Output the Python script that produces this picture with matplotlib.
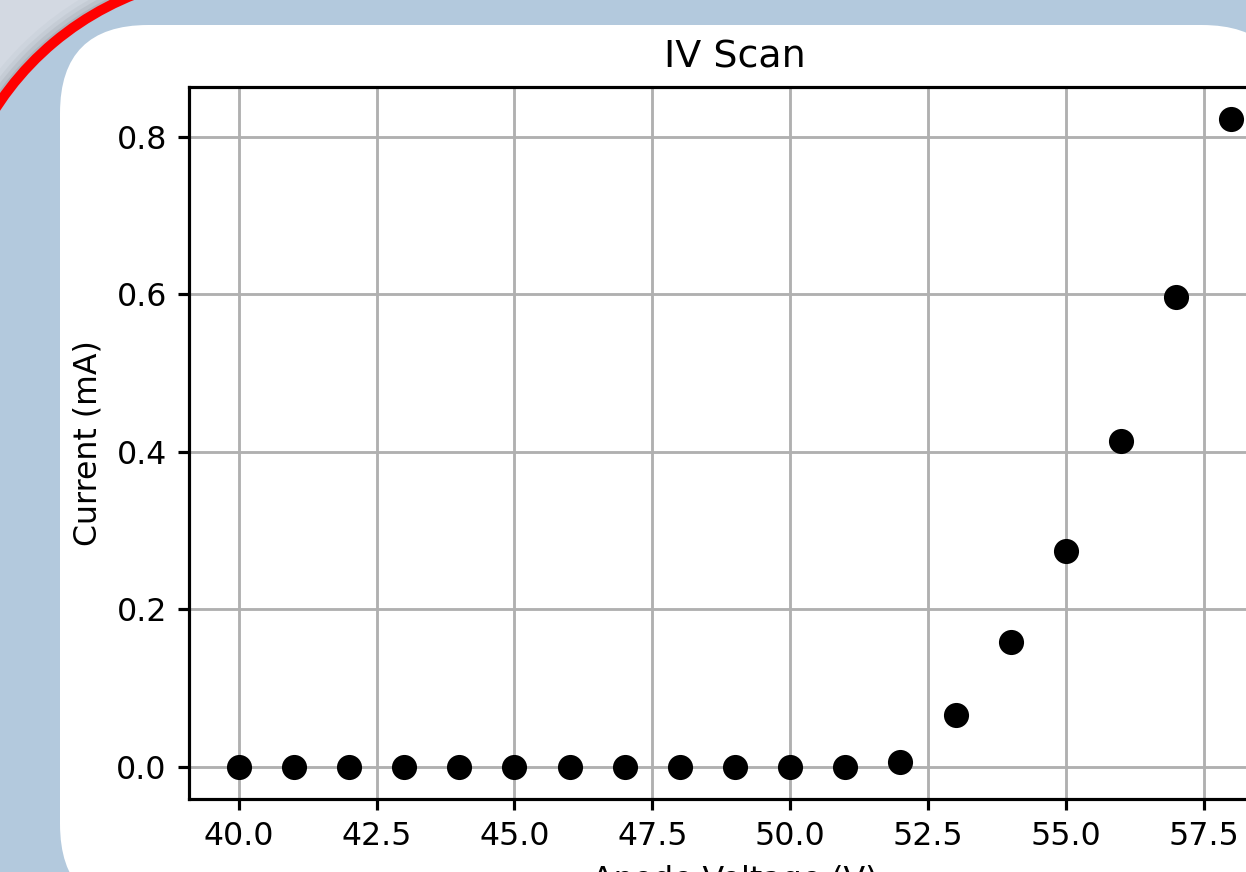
import matplotlib
matplotlib.use("Agg")
import matplotlib.pyplot as plt
from matplotlib.patches import FancyBboxPatch, Circle, Rectangle, Arc

# ---- data ----
voltage = [40, 41, 42, 43, 44, 45, 46, 47, 48, 49, 50, 51, 52, 53, 54, 55, 56, 57, 58]
current = [0.0, 0.0, 0.0, 0.0, 0.0, 0.0, 0.0, 0.0, 0.0, 0.0, 0.0, 0.0,
           0.006, 0.066, 0.158, 0.274, 0.414, 0.596, 0.822]
title = "IV Scan"
xlabel = "Anode Voltage (V)"
ylabel = "Current (mA)"

W, H = 1246, 872
DPI = 228
fig = plt.figure(figsize=(W / DPI, H / DPI), dpi=DPI)

# ---- background (screenshot surroundings), in pixel coords ----
bg = fig.add_axes([0, 0, 1, 1], zorder=0)
bg.set_xlim(0, W)
bg.set_ylim(H, 0)
bg.axis("off")
bg.add_patch(Rectangle((0, 0), W, H, facecolor="#d3d9e2", edgecolor="none"))
# shadow around the red arc (outer side)
for dr, a in [(20, 0.05), (15, 0.08), (11, 0.12), (7, 0.18)]:
    bg.add_patch(Circle((242, 267), 293 + dr, facecolor="#6f7780", alpha=a, edgecolor="none"))
bg.add_patch(Circle((242, 267), 293, facecolor="#b3c9dd", edgecolor="none"))
bg.add_patch(Rectangle((300, 0), W, H, facecolor="#b3c9dd", edgecolor="none"))
bg.add_patch(Rectangle((0, 300), W, H, facecolor="#b3c9dd", edgecolor="none"))
bg.add_patch(Arc((242, 267), 2 * 293, 2 * 293, theta1=205, theta2=255,
                 edgecolor="#ff0000", linewidth=10 * 72 / DPI))
# white card
bg.add_patch(FancyBboxPatch((60, 25), 1290 - 60, 912 - 25,
                            boxstyle="round,pad=0,rounding_size=88",
                            facecolor="white", edgecolor="none"))

# ---- main axes ----
left = 189 / W
right = 1281 / W
bottom = (H - 799) / H
top = (H - 87) / H
ax = fig.add_axes([left, bottom, right - left, top - bottom], zorder=1)
ax.scatter(voltage, current, s=48, color="black", zorder=3)
ax.set_title(title)
ax.set_xlabel(xlabel)
ax.set_ylabel(ylabel)
ax.grid(True, linewidth=0.9)
ax.set_axisbelow(True)
for sp in ax.spines.values():
    sp.set_linewidth(1.0)
ax.tick_params(width=1.0)

fig.savefig("out.png", dpi=DPI)
